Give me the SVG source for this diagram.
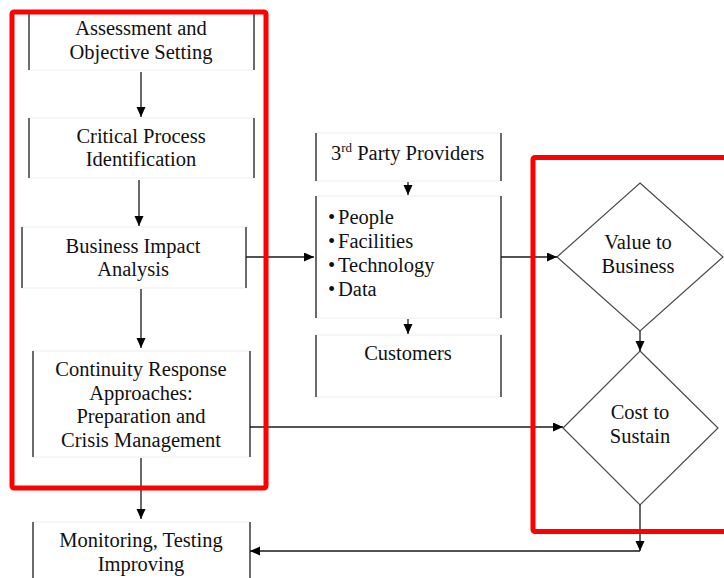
<svg xmlns="http://www.w3.org/2000/svg" width="724" height="578" viewBox="0 0 724 578" font-family="'Liberation Serif', 'Times New Roman', serif">
  <style>
    text { font-family: "Liberation Serif", "Times New Roman", serif; font-size: 20.5px; fill: #111111; }
    .c { text-anchor: middle; }
    .edge { fill: #ffffff; stroke: #eeeeee; stroke-width: 1; }
    .side { stroke: #3c3c3c; stroke-width: 1.5; }
    .diamond { fill: #ffffff; stroke: #4a4a4a; stroke-width: 1.2; }
    .conn { fill: none; stroke: #1a1a1a; stroke-width: 1.3; }
    .frame { fill: none; stroke: #ff0000; stroke-width: 5; }
  </style>
  <defs>
    <marker id="arrow" markerUnits="userSpaceOnUse" markerWidth="10" markerHeight="10" refX="10" refY="4.5" orient="auto">
      <path d="M0,0 L10,4.5 L0,9 z" fill="#000000"/>
    </marker>
  </defs>
  <rect width="724" height="578" fill="#ffffff"/>

  <!-- process column -->
  <g id="assessment">
    <rect class="edge" x="29" y="12" width="225" height="58"/>
    <line class="side" x1="29" y1="12" x2="29" y2="70"/>
    <line class="side" x1="254" y1="12" x2="254" y2="70"/>
    <text class="c" x="141" y="35">Assessment and</text>
    <text class="c" x="141" y="58.5">Objective Setting</text>
  </g>
  <g id="critical-process">
    <rect class="edge" x="29" y="118" width="225" height="60"/>
    <line class="side" x1="29" y1="118" x2="29" y2="178"/>
    <line class="side" x1="254" y1="118" x2="254" y2="178"/>
    <text class="c" x="141" y="142.5">Critical Process</text>
    <text class="c" x="141" y="166">Identification</text>
  </g>
  <g id="business-impact">
    <rect class="edge" x="22" y="227" width="224" height="61"/>
    <line class="side" x1="22" y1="227" x2="22" y2="288"/>
    <line class="side" x1="246" y1="227" x2="246" y2="288"/>
    <text class="c" x="133" y="252.5">Business Impact</text>
    <text class="c" x="133" y="276">Analysis</text>
  </g>
  <g id="continuity-response">
    <rect class="edge" x="33" y="351" width="217" height="106"/>
    <line class="side" x1="33" y1="351" x2="33" y2="457"/>
    <line class="side" x1="250" y1="351" x2="250" y2="457"/>
    <text class="c" x="141" y="376">Continuity Response</text>
    <text class="c" x="141" y="399.5">Approaches:</text>
    <text class="c" x="141" y="423">Preparation and</text>
    <text class="c" x="141" y="446.5">Crisis Management</text>
  </g>
  <g id="monitoring">
    <rect class="edge" x="33" y="522" width="217" height="70"/>
    <line class="side" x1="33" y1="522" x2="33" y2="578"/>
    <line class="side" x1="250" y1="522" x2="250" y2="578"/>
    <text class="c" x="141" y="547">Monitoring, Testing</text>
    <text class="c" x="141" y="570.5">Improving</text>
  </g>

  <!-- dependencies column -->
  <g id="third-party">
    <rect class="edge" x="316" y="133" width="185" height="48"/>
    <line class="side" x1="316" y1="133" x2="316" y2="181"/>
    <line class="side" x1="501" y1="133" x2="501" y2="181"/>
    <text x="331" y="160">3<tspan font-size="13" dy="-8">rd</tspan><tspan dy="8"> Party Providers</tspan></text>
  </g>
  <g id="resources">
    <rect class="edge" x="316" y="196" width="185" height="122"/>
    <line class="side" x1="316" y1="196" x2="316" y2="318"/>
    <line class="side" x1="501" y1="196" x2="501" y2="318"/>
    <text x="328" y="224">•</text><text x="338" y="224">People</text>
    <text x="328" y="248">•</text><text x="338" y="248">Facilities</text>
    <text x="328" y="272">•</text><text x="338" y="272">Technology</text>
    <text x="328" y="296">•</text><text x="338" y="296">Data</text>
  </g>
  <g id="customers">
    <rect class="edge" x="316" y="335" width="185" height="62"/>
    <line class="side" x1="316" y1="335" x2="316" y2="397"/>
    <line class="side" x1="501" y1="335" x2="501" y2="397"/>
    <text class="c" x="408" y="360">Customers</text>
  </g>

  <!-- decisions -->
  <g id="value-to-business">
    <polygon class="diamond" points="640,183 723,257 640,331 557,257"/>
    <text class="c" x="638" y="249">Value to</text>
    <text class="c" x="638" y="273">Business</text>
  </g>
  <g id="cost-to-sustain">
    <polygon class="diamond" points="640,351 718,428 640,505 563,428"/>
    <text class="c" x="640" y="419">Cost to</text>
    <text class="c" x="640" y="443">Sustain</text>
  </g>

  <!-- connectors -->
  <g id="connectors">
    <line class="conn" x1="141" y1="72" x2="141" y2="117" marker-end="url(#arrow)"/>
    <line class="conn" x1="139" y1="180" x2="139" y2="226" marker-end="url(#arrow)"/>
    <line class="conn" x1="141" y1="289" x2="141" y2="348" marker-end="url(#arrow)"/>
    <line class="conn" x1="141" y1="458" x2="141" y2="519" marker-end="url(#arrow)"/>
    <line class="conn" x1="408" y1="182" x2="408" y2="195" marker-end="url(#arrow)"/>
    <line class="conn" x1="408" y1="319" x2="408" y2="334" marker-end="url(#arrow)"/>
    <line class="conn" x1="246" y1="257" x2="314" y2="257" marker-end="url(#arrow)"/>
    <line class="conn" x1="501" y1="257" x2="557" y2="257" marker-end="url(#arrow)"/>
    <line class="conn" x1="640" y1="331" x2="640" y2="351" marker-end="url(#arrow)"/>
    <line class="conn" x1="250" y1="427" x2="563" y2="427" marker-end="url(#arrow)"/>
    <line class="conn" x1="640" y1="505" x2="640" y2="551" marker-end="url(#arrow)"/>
    <line class="conn" x1="640" y1="551" x2="250" y2="551" marker-end="url(#arrow)"/>
  </g>

  <!-- highlight frames -->
  <rect class="frame" x="12" y="12" width="254" height="476" rx="2"/>
  <rect class="frame" x="533" y="157.5" width="200" height="374" rx="2"/>
</svg>
